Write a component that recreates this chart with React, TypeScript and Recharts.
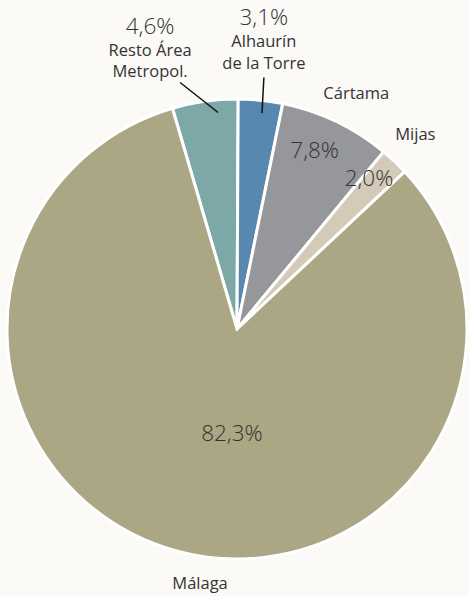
import { PieChart, Pie, Cell } from 'recharts'

const categories = ['Resto Área Metropol.', 'Alhaurín de la Torre', 'Cártama', 'Mijas', 'Málaga']
const shares = [4.6, 3.1, 7.8, 2.0, 82.3]
const nameLines = [['Resto Área', 'Metropol.'], ['Alhaurín', 'de la Torre'], ['Cártama'], ['Mijas'], ['Málaga']]
const colors = ['#7DA8A8', '#5887AF', '#96979B', '#D3CAB7', '#ABA784']

const data = categories.map((name, i) => ({ name, value: shares[i], lines: nameLines[i] }))

const TEXT = '#333'
const FONT = '"Open Sans", Lato, sans-serif'
const PCT_SIZE = 22.5
const NAME_SIZE = 16.5

// placement of the labels: angle measured clockwise from 12 o'clock, radius as a share of the pie radius
type Layout =
  | { kind: 'inside'; pct: [number, number]; name: [number, number] }
  | { kind: 'callout'; tip: [number, number]; elbow: [number, number]; dx: number; dys: number[] }

const layout: Layout[] = [
  { kind: 'callout', tip: [-5, 0.945], elbow: [-13, 1.1], dx: -30, dys: [-57, -33, -12] },
  { kind: 'callout', tip: [6.6, 0.945], elbow: [6.1, 1.1], dx: 0, dys: [-61, -37, -15] },
  { kind: 'inside', pct: [23.4, 0.85], name: [26.8, 1.15] },
  { kind: 'inside', pct: [41, 0.875], name: [42.4, 1.15] },
  { kind: 'inside', pct: [182.8, 0.452], name: [188.3, 1.113] },
]

const polar = (cx: number, cy: number, r: number, deg: number) => {
  const a = (deg * Math.PI) / 180
  return { x: cx + r * Math.sin(a), y: cy - r * Math.cos(a) }
}

const fmt = (v: number) => v.toFixed(1).replace('.', ',') + '%'

const renderLabel = (props: any) => {
  const { cx, cy, outerRadius, index, payload } = props
  const l = layout[index]
  const pct = fmt(payload.value)
  if (l.kind === 'inside') {
    const p = polar(cx, cy, outerRadius * l.pct[1], l.pct[0])
    const n = polar(cx, cy, outerRadius * l.name[1], l.name[0])
    return (
      <g>
        <text x={p.x} y={p.y} textAnchor="middle" dominantBaseline="central" fontSize={PCT_SIZE} fontWeight={300} fill={TEXT} fontFamily={FONT}>
          {pct}
        </text>
        <text x={n.x} y={n.y} textAnchor="middle" dominantBaseline="central" fontSize={NAME_SIZE} fill={TEXT} fontFamily={FONT}>
          {payload.lines[0]}
        </text>
      </g>
    )
  }
  const t = polar(cx, cy, outerRadius * l.tip[1], l.tip[0])
  const e = polar(cx, cy, outerRadius * l.elbow[1], l.elbow[0])
  return (
    <g>
      <line x1={t.x} y1={t.y} x2={e.x} y2={e.y} stroke="#111" strokeWidth={1.5} />
      <text x={e.x + l.dx} y={e.y + l.dys[0]} textAnchor="middle" dominantBaseline="central" fontSize={PCT_SIZE} fontWeight={300} fill={TEXT} fontFamily={FONT}>
        {pct}
      </text>
      {payload.lines.map((s: string, j: number) => (
        <text key={j} x={e.x + l.dx} y={e.y + l.dys[j + 1]} textAnchor="middle" dominantBaseline="central" fontSize={NAME_SIZE} fill={TEXT} fontFamily={FONT}>
          {s}
        </text>
      ))}
    </g>
  )
}

export default function App() {
  return (
    <div style={{ position: 'fixed', left: 0, top: 0, width: 469, height: 596, background: '#FBFAF6' }}>
      <PieChart width={469} height={596} margin={{ top: 0, right: 0, bottom: 0, left: 0 }}>
        <Pie
          data={data}
          dataKey="value"
          nameKey="name"
          cx={237}
          cy={329}
          outerRadius={230}
          startAngle={106.3}
          endAngle={-253.7}
          stroke="#fff"
          strokeWidth={3}
          label={renderLabel}
          labelLine={false}
          isAnimationActive={false}
        >
          {data.map((d, i) => (
            <Cell key={d.name} fill={colors[i]} />
          ))}
        </Pie>
      </PieChart>
    </div>
  )
}
